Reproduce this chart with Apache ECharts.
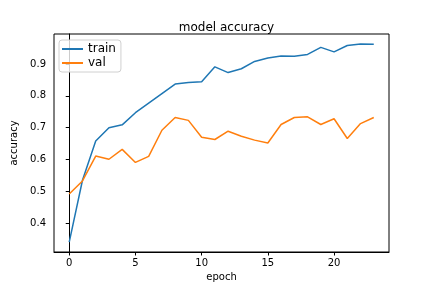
<!DOCTYPE html>
<html>
<head>
<meta charset="utf-8">
<script src="https://cdn.jsdelivr.net/npm/echarts@6/dist/echarts.min.js"></script>
<style>
html,body{margin:0;padding:0;background:#fff;}
#c{width:432px;height:288px;}
</style>
</head>
<body>
<div id="c"></div>
<script>
const epochs = [0,1,2,3,4,5,6,7,8,9,10,11,12,13,14,15,16,17,18,19,20,21,22,23];
const train = [0.341,0.535,0.658,0.700,0.709,0.747,0.777,0.807,0.837,0.842,0.844,0.891,0.873,0.885,0.908,0.919,0.925,0.924,0.930,0.952,0.938,0.958,0.963,0.962];
const val = [0.492,0.533,0.611,0.601,0.632,0.591,0.610,0.692,0.732,0.723,0.670,0.663,0.689,0.673,0.661,0.652,0.710,0.732,0.734,0.710,0.728,0.666,0.713,0.732];
const xTicks = [0,5,10,15,20];
const yTicks = [0.4,0.5,0.6,0.7,0.8,0.9];
const seriesNames = ['train','val'];

const allY = train.concat(val);
const yMinD = Math.min(...allY), yMaxD = Math.max(...allY);
const yPad = 0.05*(yMaxD-yMinD);
const xMinD = Math.min(...epochs), xMaxD = Math.max(...epochs);
const xPad = 0.05*(xMaxD-xMinD);

const font = 'DejaVu Sans';
const chart = echarts.init(document.getElementById('c'), null, {renderer:'canvas'});
chart.setOption({
  animation:false,
  backgroundColor:'#fff',
  title:{text:'model accuracy', left:221.5, top:17, textAlign:'center',
    textStyle:{fontFamily:font, fontSize:12, fontWeight:'normal', color:'#000'}},
  grid:{left:54, right:43, top:34, bottom:36, show:true, borderColor:'#000', borderWidth:1, containLabel:false},
  legend:{data:seriesNames, left:59, top:40, orient:'vertical',
    icon:'rect', itemWidth:21, itemHeight:2, itemGap:2, padding:[3,5,3,3],
    backgroundColor:'rgba(255,255,255,0.8)', borderColor:'#d0d0d0', borderWidth:1, borderRadius:3,
    textStyle:{fontFamily:font, fontSize:12, color:'#000', lineHeight:12}},
  xAxis:{type:'value', min:xMinD-xPad, max:xMaxD+xPad,
    name:'epoch', nameLocation:'middle', nameGap:19,
    nameTextStyle:{fontFamily:font, fontSize:10, color:'#000'},
    axisLine:{show:true, lineStyle:{color:'#000', width:1}},
    axisTick:{show:true, inside:false, length:3.5, customValues:xTicks, lineStyle:{color:'#000'}},
    axisLabel:{customValues:xTicks, margin:6, fontFamily:font, fontSize:10, color:'#000'},
    splitLine:{show:false}},
  yAxis:{type:'value', min:yMinD-yPad, max:yMaxD+yPad,
    name:'accuracy', nameLocation:'middle', nameGap:27, nameRotate:90,
    nameTextStyle:{fontFamily:font, fontSize:10, color:'#000'},
    axisLine:{show:true, lineStyle:{color:'#000', width:1}},
    axisTick:{show:true, inside:false, length:3.5, customValues:yTicks, lineStyle:{color:'#000'}},
    axisLabel:{customValues:yTicks, margin:8, fontFamily:font, fontSize:10, color:'#000',
      formatter:v=>v.toFixed(1)},
    splitLine:{show:false}},
  series:[
    {name:seriesNames[0], type:'line', data:epochs.map((e,i)=>[e,train[i]]), symbol:'none',
      lineStyle:{color:'#1f77b4', width:1.5}, itemStyle:{color:'#1f77b4'}},
    {name:seriesNames[1], type:'line', data:epochs.map((e,i)=>[e,val[i]]), symbol:'none',
      lineStyle:{color:'#ff7f0e', width:1.5}, itemStyle:{color:'#ff7f0e'}}
  ]
});
</script>
</body>
</html>
